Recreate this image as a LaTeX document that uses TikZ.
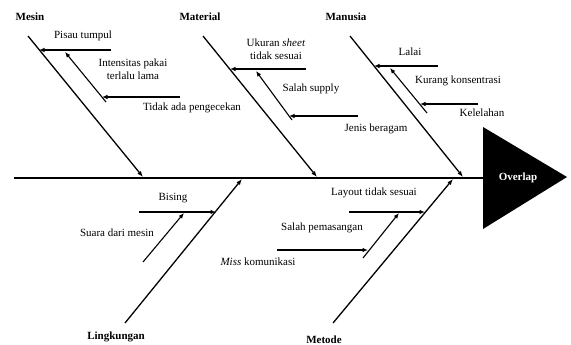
\documentclass[tikz,border=0pt]{standalone}
\usepackage{fontspec}
\setmainfont{Liberation Serif}
\usetikzlibrary{arrows.meta}
\begin{document}
\begin{tikzpicture}[x=1pt,y=-1pt,
  every node/.style={font=\fontsize{11}{12.5}\selectfont, inner sep=0pt},
  lbl/.style={align=center},
  cat/.style={font=\fontsize{11}{12.5}\selectfont\bfseries},
  bone/.style={line width=1.3pt, -{Latex[length=6pt,width=4.5pt]}},
  sub/.style={line width=1.1pt, -{Latex[length=5.5pt,width=4.5pt]}},
  spine/.style={line width=2pt}]
\useasboundingbox (0,0) rectangle (571,345);
% spine and head
\coordinate (sp0) at (14,178);
\coordinate (sp1) at (484,178);
\draw[spine] (sp0) -- (sp1);
\coordinate (h1) at (483,127);
\coordinate (h2) at (567,177);
\coordinate (h3) at (483,229);
\fill[black] (h1) -- (h2) -- (h3) -- cycle;
\node[text=white, font=\fontsize{11}{12.5}\selectfont\bfseries] (head) at (518,178) {Overlap};
% category labels
\node[cat] (mesin) at (30,17) {Mesin};
\node[cat] (material) at (200,17) {Material};
\node[cat] (manusia) at (346,17) {Manusia};
\node[cat] (lingk) at (116,337) {Lingkungan};
\node[cat] (metode) at (324,339.5) {Metode};
% bones
\coordinate (m1) at (28,36);   \coordinate (m2) at (143,177);
\coordinate (a1) at (203,36);  \coordinate (a2) at (317,177);
\coordinate (n1) at (350,36);  \coordinate (n2) at (463,177);
\coordinate (l1) at (125,323); \coordinate (l2) at (242,179);
\coordinate (t1) at (333,323); \coordinate (t2) at (453,179);
\draw[bone] (m1) -- (m2);
\draw[bone] (a1) -- (a2);
\draw[bone] (n1) -- (n2);
\draw[bone] (l1) -- (l2);
\draw[bone] (t1) -- (t2);
% Mesin causes
\coordinate (p1) at (111,50); \coordinate (p2) at (39,50);
\draw[sub] (p1) -- (p2);
\node (pisau) at (83,36) {Pisau tumpul};
\coordinate (i1) at (106,102); \coordinate (i2) at (65,52);
\draw[sub] (i1) -- (i2);
\node[lbl] (inten) at (133,69) {Intensitas pakai\\terlalu lama};
\coordinate (d1) at (180,97); \coordinate (d2) at (102,97);
\draw[sub] (d1) -- (d2);
\node (tidak) at (192,108) {Tidak ada pengecekan};
% Material causes
\coordinate (u1) at (306,69); \coordinate (u2) at (230,69);
\draw[sub] (u1) -- (u2);
\node[lbl] (ukuran) at (276,49) {Ukuran \textit{sheet}\\tidak sesuai};
\coordinate (s1) at (292,120); \coordinate (s2) at (256,71);
\draw[sub] (s1) -- (s2);
\node (supply) at (311,89) {Salah supply};
\coordinate (j1) at (358,116); \coordinate (j2) at (289,116);
\draw[sub] (j1) -- (j2);
\node (jenis) at (376,129) {Jenis beragam};
% Manusia causes
\coordinate (la1) at (438,66); \coordinate (la2) at (374,66);
\draw[sub] (la1) -- (la2);
\node (lalai) at (410,52) {Lalai};
\coordinate (k1) at (427,113); \coordinate (k2) at (390,68);
\draw[sub] (k1) -- (k2);
\node (kurang) at (458,81) {Kurang konsentrasi};
\coordinate (ke1) at (478,104); \coordinate (ke2) at (420,104);
\draw[sub] (ke1) -- (ke2);
\node (kelelahan) at (482,113) {Kelelahan};
% Lingkungan causes
\coordinate (b1) at (139,212); \coordinate (b2) at (216,212);
\draw[sub] (b1) -- (b2);
\node (bising) at (173,198) {Bising};
\coordinate (su1) at (143,262); \coordinate (su2) at (184,213);
\draw[sub] (su1) -- (su2);
\node (suara) at (117,233) {Suara dari mesin};
% Metode causes
\coordinate (ly1) at (349,212); \coordinate (ly2) at (425,212);
\draw[sub] (ly1) -- (ly2);
\node (layout) at (374,193) {Layout tidak sesuai};
\coordinate (sp2a) at (363,258); \coordinate (sp2b) at (399,213);
\draw[sub] (sp2a) -- (sp2b);
\node (pemas) at (322,228) {Salah pemasangan};
\coordinate (mi1) at (277,250); \coordinate (mi2) at (368,250);
\draw[sub] (mi1) -- (mi2);
\node (miss) at (258,262) {\textit{Miss} komunikasi};
\end{tikzpicture}
\end{document}
